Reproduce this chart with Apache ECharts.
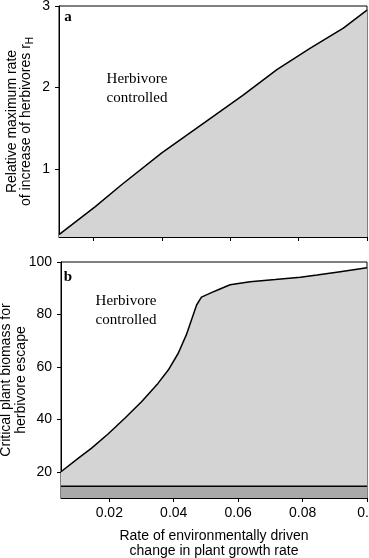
<!DOCTYPE html>
<html>
<head>
<meta charset="utf-8">
<script src="https://cdn.jsdelivr.net/npm/echarts@6/dist/echarts.min.js"></script>
<style>
  html, body { margin: 0; padding: 0; background: #fff; }
  #chart { width: 369px; height: 558px; }
</style>
</head>
<body>
<div id="chart"></div>
<script>
// panel a: threshold herbivore growth rate vs rate of change
const rateA = [0.005, 0.0161, 0.0243, 0.0367, 0.0516, 0.0619, 0.0722, 0.0824, 0.0927, 0.1]
const rH = [0.2, 0.54, 0.81, 1.2, 1.62, 1.91, 2.22, 2.48, 2.73, 2.95]

// panel b: critical plant biomass vs rate of change
const rateB = [0.005, 0.0103, 0.0144, 0.0196, 0.0248, 0.03, 0.0351, 0.0383, 0.0414, 0.0439, 0.0455, 0.0471, 0.0486, 0.0517, 0.0538, 0.0575, 0.0637, 0.0715, 0.0793, 0.0845, 0.0917, 0.1]
const biomass = [20, 25.1, 28.9, 34.4, 40.4, 46.7, 53.7, 58.8, 65.2, 72.2, 77.9, 83.6, 86.6, 88.3, 89.4, 91.3, 92.5, 93.3, 94.2, 95, 96.3, 97.8]
const floorLevel = 14.5

const ticksA = [0.0156, 0.0367, 0.0578, 0.0789, 0.1]
const ticksB = [0.02, 0.04, 0.06, 0.08, 0.1]
const yTicksA = [1, 2, 3]
const yTicksB = [20, 40, 60, 80, 100]

const LIGHT = '#d4d4d4'
const DARK = '#a9a9a9'
const sans = "'Liberation Sans', Arial, sans-serif"
const serif = "'Liberation Serif', 'Times New Roman', serif"

const chart = echarts.init(document.getElementById('chart'), null, { renderer: 'canvas' })

const axisLine = { show: true, lineStyle: { color: '#000', width: 1 } }
const tick = (vals) => ({ show: true, length: 4, lineStyle: { color: '#000' }, customValues: vals })
const note = (x, y, text) => ({
  type: 'text', x, y,
  style: {
    text, fontFamily: serif, fontSize: 15, fill: '#000',
    align: 'center', verticalAlign: 'middle', lineHeight: 19,
  },
})
const panelTag = (x, y, text) => ({
  type: 'text', x, y,
  style: { text, fontFamily: serif, fontSize: 15, fontWeight: 'bold', fill: '#000', align: 'center', verticalAlign: 'middle' },
})

chart.setOption({
  animation: false,
  grid: [
    { left: 59, right: 2, top: 6, height: 231, outerBoundsMode: 'none', show: true, borderColor: '#000', borderWidth: 1, backgroundColor: 'transparent' },
    { left: 61, right: 2, top: 262, height: 236, outerBoundsMode: 'none', show: true, borderColor: '#000', borderWidth: 1, backgroundColor: 'transparent' },
  ],
  xAxis: [
    {
      gridIndex: 0, type: 'value', min: 0.005, max: 0.1,
      axisLine, axisTick: tick(ticksA), axisLabel: { show: false }, splitLine: { show: false },
    },
    {
      gridIndex: 1, type: 'value', min: 0.005, max: 0.1,
      axisLine, axisTick: tick(ticksB), splitLine: { show: false },
      axisLabel: { customValues: ticksB, color: '#000', fontFamily: sans, fontSize: 14, margin: 8 },
      name: 'Rate of environmentally driven\nchange in plant growth rate',
      nameLocation: 'middle', nameGap: 31, nameMoveOverlap: false,
      nameTextStyle: { color: '#000', fontFamily: sans, fontSize: 14, lineHeight: 15 },
    },
  ],
  yAxis: [
    {
      gridIndex: 0, type: 'value', min: 0.17, max: 3,
      axisLine, axisTick: tick(yTicksA), splitLine: { show: false },
      axisLabel: { customValues: yTicksA, color: '#000', fontFamily: sans, fontSize: 14, margin: 9 },
      name: '{m|Relative maximum rate}\n{m|of increase of herbivores r}{s|H}',
      nameLocation: 'middle', nameRotate: 90, nameGap: 26, nameMoveOverlap: false,
      nameTextStyle: {
        color: '#000', fontFamily: sans, fontSize: 14, lineHeight: 14,
        rich: {
          m: { fontFamily: sans, fontSize: 14, lineHeight: 14, color: '#000', verticalAlign: 'top' },
          s: { fontFamily: sans, fontSize: 10, lineHeight: 10, color: '#000', verticalAlign: 'top', padding: [6, 0, 0, 0] },
        },
      },
    },
    {
      gridIndex: 1, type: 'value', min: 10, max: 100,
      axisLine, axisTick: tick(yTicksB), splitLine: { show: false },
      axisLabel: { customValues: yTicksB, color: '#000', fontFamily: sans, fontSize: 14, margin: 9 },
      name: 'Critical plant biomass for\nherbivore escape',
      nameLocation: 'middle', nameRotate: 90, nameGap: 32, nameMoveOverlap: false,
      nameTextStyle: { color: '#000', fontFamily: sans, fontSize: 14, lineHeight: 15 },
    },
  ],
  series: [
    {
      type: 'line', xAxisIndex: 0, yAxisIndex: 0, symbol: 'none',
      data: rateA.map((x, i) => [x, rH[i]]),
      lineStyle: { color: '#000', width: 1.5 },
      areaStyle: { color: LIGHT, opacity: 1 },
    },
    {
      type: 'line', xAxisIndex: 1, yAxisIndex: 1, symbol: 'none',
      data: rateB.map((x, i) => [x, biomass[i]]),
      lineStyle: { color: '#000', width: 1.5 },
      areaStyle: { color: LIGHT, opacity: 1 },
    },
    {
      type: 'line', xAxisIndex: 1, yAxisIndex: 1, symbol: 'none',
      data: [[0.005, floorLevel], [0.1, floorLevel]],
      lineStyle: { color: '#000', width: 1.5 },
      areaStyle: { color: DARK, opacity: 1 },
    },
  ],
  graphic: [
    panelTag(68, 17, 'a'),
    panelTag(68, 277, 'b'),
    note(137, 89, 'Herbivore\ncontrolled'),
    note(243, 175, 'Escape to\nvegetated state'),
    note(126, 311, 'Herbivore\ncontrolled'),
    note(264, 391, 'Escape to\nvegetated state'),
  ],
})
</script>
</body>
</html>
